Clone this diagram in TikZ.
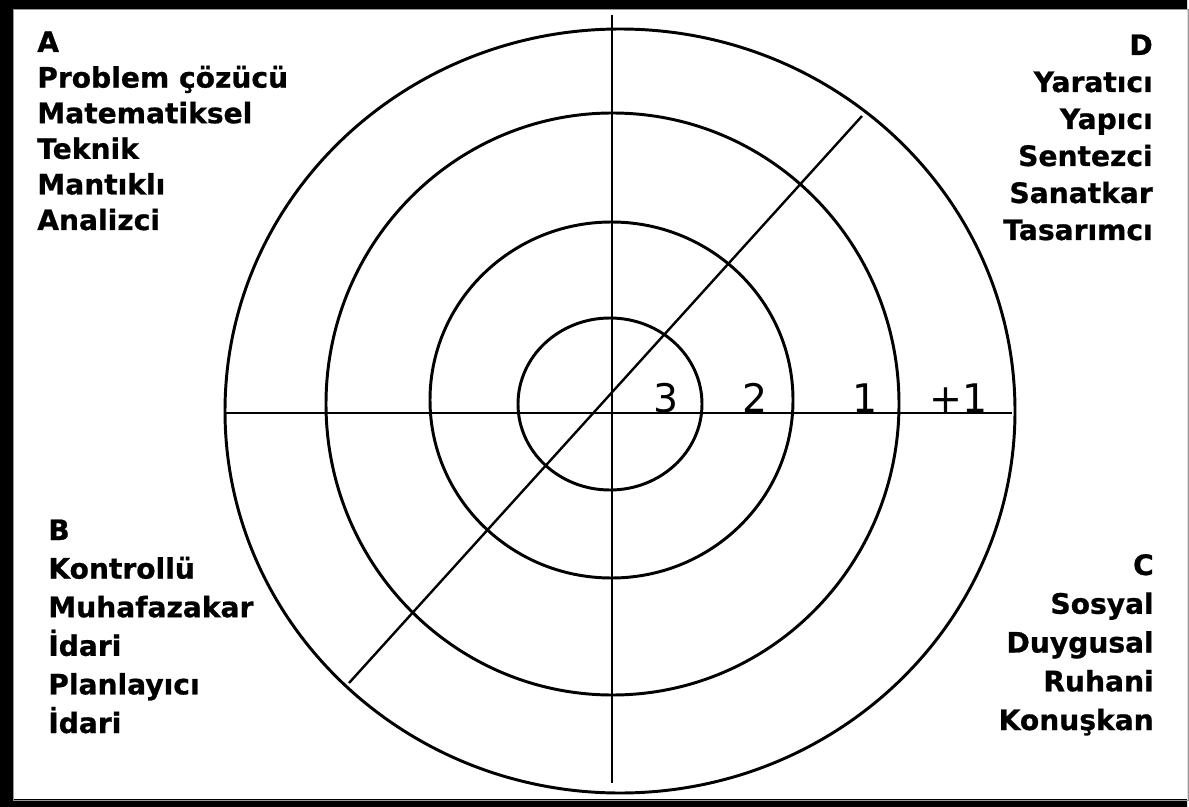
\documentclass[tikz,border=0pt]{standalone}
\usepackage{fontspec}
\setmainfont{DejaVu Sans}
\newfontfamily\quadfont{DejaVu Sans}[BoldFeatures={FakeBold=0.8}]
\begin{document}
\begin{tikzpicture}[x=0.025cm,y=-0.025cm,
  ring/.style={line width=2.1pt},
  axis/.style={line width=1.5pt},
  lbl/.style={font=\quadfont\bfseries\fontsize{20}{24}\selectfont,inner sep=0pt},
  num/.style={font=\fontsize{28}{32}\selectfont,inner sep=0pt,anchor=base}]
  \useasboundingbox (0,0) rectangle (1189,807);
  % frame
  \fill[black,even odd rule] (0,0) rectangle (1187,807) (13,9) rectangle (1187,799);
  \draw[gray!80,line width=0.7pt] (13,9) rectangle (1188,800);
  % rings
  \draw[ring] (610,404) ellipse (92 and 86);
  \draw[ring] (611.5,400) ellipse (181.5 and 178);
  \draw[ring] (612.5,404) ellipse (286.5 and 291);
  \draw[ring] (620,411) ellipse (395 and 382);
  % axes
  \coordinate (top) at (612,15);
  \coordinate (bot) at (612,783);
  \coordinate (lft) at (225,413);
  \coordinate (rgt) at (1012,413);
  \coordinate (sw) at (349,683);
  \coordinate (ne) at (862,116);
  \draw[axis] (top) -- (bot);
  \draw[axis] (lft) -- (rgt);
  \draw[line width=1.7pt] (sw) -- (ne);
  % scale numbers
  \node[num] (n3) at (666,412) {3};
  \node[num] (n2) at (755,412) {2};
  \node[num] (n1) at (865,412) {1};
  \node[num] (np1) at (959,412) {+1};
  % quadrant labels
  \foreach \w [count=\i from 0] in {A,Problem çözücü,Matematiksel,Teknik,Mantıklı,Analizci}
    \node[lbl,anchor=base west] (a\i) at (37,52+35.6*\i) {\w};
  \foreach \w [count=\i from 0] in {D,Yaratıcı,Yapıcı,Sentezci,Sanatkar,Tasarımcı}
    \node[lbl,anchor=base east] (d\i) at (1153,55+37*\i) {\w};
  \foreach \w [count=\i from 0] in {B,Kontrollü,Muhafazakar,İdari,Planlayıcı,İdari}
    \node[lbl,anchor=base west] (b\i) at (48,540+38.6*\i) {\w};
  \foreach \w [count=\i from 0] in {C,Sosyal,Duygusal,Ruhani,Konuşkan}
    \node[lbl,anchor=base east] (c\i) at (1154,575+38.75*\i) {\w};
\end{tikzpicture}
\end{document}
